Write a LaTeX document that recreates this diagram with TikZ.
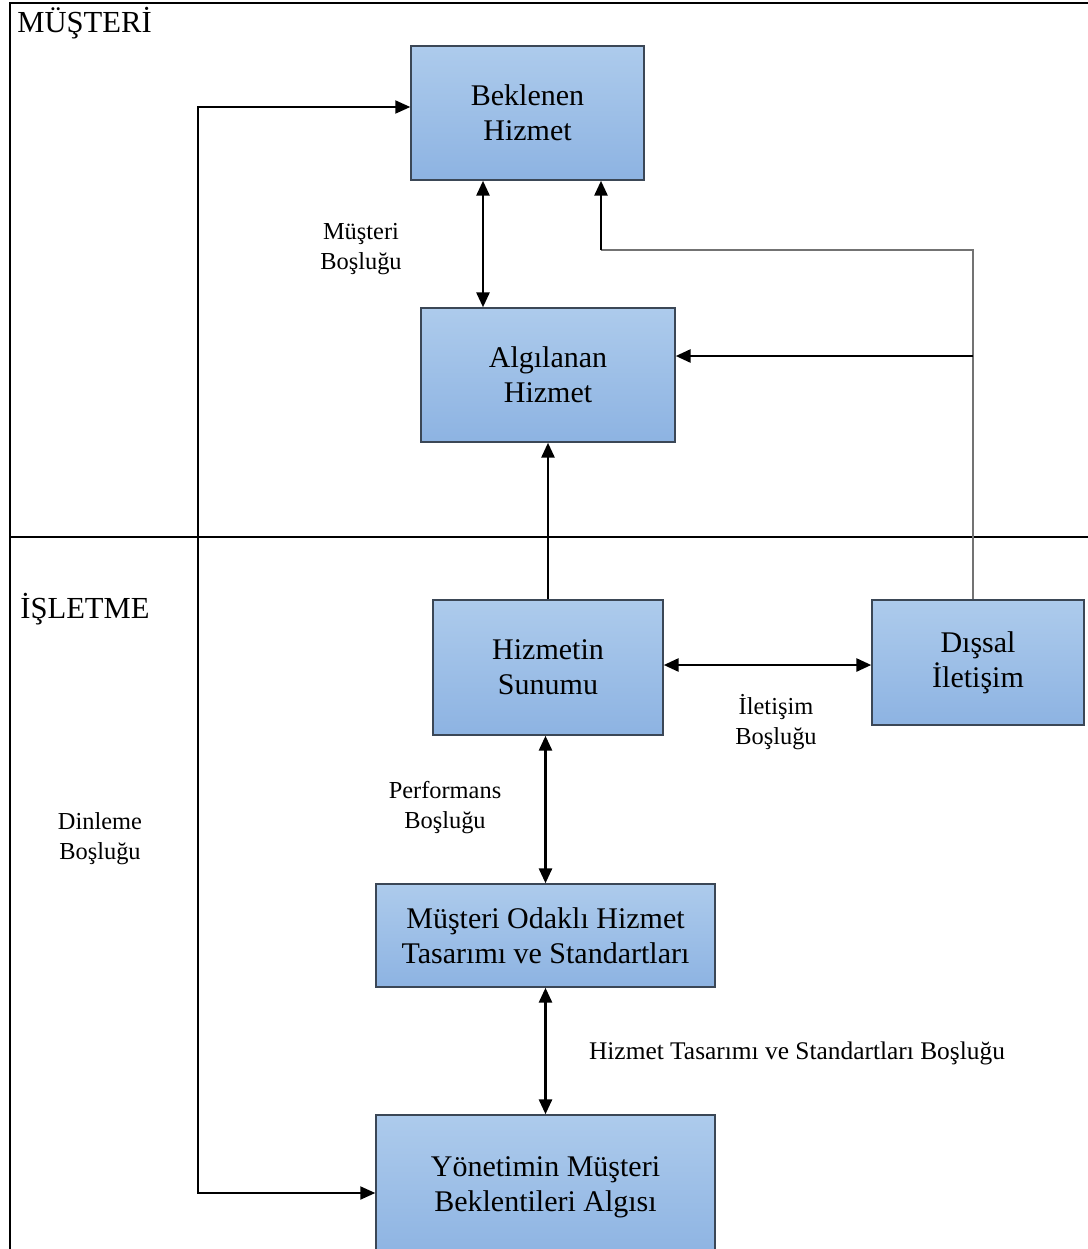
\documentclass[tikz,border=0pt]{standalone}
\usepackage{fontspec}
\setmainfont{Liberation Serif}
\usetikzlibrary{arrows.meta,calc}
\definecolor{boxtop}{HTML}{ADCBEC}
\definecolor{boxbot}{HTML}{8DB3E2}
\definecolor{boxline}{HTML}{3B4756}
\tikzset{
  box/.style={draw=boxline, line width=0.7pt, top color=boxtop, bottom color=boxbot,
    align=center, font=\fontsize{15}{17.5}\selectfont, inner sep=0pt},
  lbl/.style={align=center, font=\fontsize{12.2}{15}\selectfont, inner sep=0pt},
  ttl/.style={font=\fontsize{15.3}{17.5}\selectfont, inner sep=0pt},
  tip/.tip={Triangle[length=7.5pt,width=6.5pt]},
  arr/.style={line width=1.4pt, -tip},
  darr/.style={line width=1.4pt, tip-tip},
  thinline/.style={line width=0.7pt, draw=black!55},
}
\begin{document}
\begin{tikzpicture}[x=0.5pt,y=-0.5pt]
\useasboundingbox (0,0) rectangle (1088,1249);
% frame
\draw[line width=1.1pt] (10,1260) -- (10,3) -- (1095,3);
\draw[line width=0.6pt] (10,537) -- (1095,537);
\node[ttl, anchor=base west] (tm) at (17,32) {MÜŞTERİ};
\node[ttl, anchor=base west] (ti) at (20,618) {İŞLETME};
% boxes
\node[box, minimum width=116.5pt, minimum height=67pt] (bek) at (527.5,113) {Beklenen\\Hizmet};
\node[box, minimum width=127pt, minimum height=67pt] (alg) at (548,375) {Algılanan\\Hizmet};
\node[box, minimum width=115pt, minimum height=67.5pt] (sun) at (548,667.5) {Hizmetin\\Sunumu};
\node[box, minimum width=106pt, minimum height=62.5pt] (dis) at (978,662.5) {Dışsal\\İletişim};
\node[box, minimum width=169.5pt, minimum height=51.5pt] (mod) at (545.5,935.5) {Müşteri Odaklı Hizmet\\Tasarımı ve Standartları};
\node[box, minimum width=169.5pt, minimum height=72pt] (yon) at (545.5,1187) {Yönetimin Müşteri\\Beklentileri Algısı};
% labels
\node[lbl] (mb) at (361,249) {Müşteri\\Boşluğu};
\node[lbl] (ib) at (776,722) {İletişim\\Boşluğu};
\node[lbl] (pb) at (445,808) {Performans\\Boşluğu};
\node[lbl] (db) at (100,839) {Dinleme\\Boşluğu};
\node[lbl, font=\fontsize{12.7}{15}\selectfont] (hb) at (797,1053) {Hizmet Tasarımı ve Standartları Boşluğu};
% helper coordinates
\coordinate (xa) at (483,0);
\coordinate (dt) at (198,107);
\coordinate (dl) at (198,1193);
\coordinate (c1) at (973,250);
\coordinate (c2) at (601,250);
\coordinate (c3) at (973,356);
\coordinate (ys) at (0,665);
% connectors
\draw[darr] (bek.south -| xa) -- (alg.north -| xa);
\draw[line width=1pt, tip-tip] (bek.west |- dt) -- (dt) -- (dl) -- (yon.west |- dl);
\draw[thinline] (dis.north -| c1) -- (c1) -- (c2);
\draw[arr] (c2) -- (bek.south -| c2);
\draw[arr] (c3) -- (alg.east |- c3);
\draw[arr] (sun.north) -- (alg.south);
\draw[darr] (sun.east |- ys) -- (dis.west |- ys);
\draw[darr] (sun.south -| mod.north) -- (mod.north);
\draw[darr] (mod.south) -- (yon.north);
\end{tikzpicture}
\end{document}
